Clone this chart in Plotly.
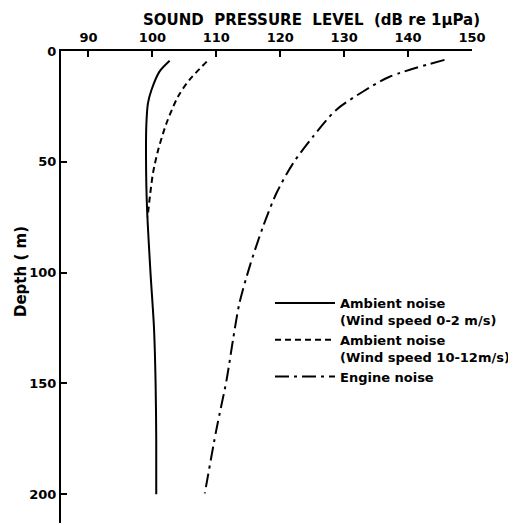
import plotly.graph_objects as go

# Data
solid_depth = [4.4, 9.3, 17.6, 23.6, 32.6, 47.7, 70.3, 100, 125, 150, 175, 200]
solid_spl = [102.7, 101.1, 99.85, 99.3, 99.06, 99.0, 99.15, 99.7, 100.25, 100.5, 100.6, 100.6]

dashed_depth = [4.8, 13, 20.6, 32.6, 44.7, 55, 65.8, 75]
dashed_spl = [108.5, 105.8, 104.0, 102.2, 100.9, 100.1, 99.6, 99.25]

engine_depth = [4, 11.6, 18.4, 26.6, 38.7, 50.7, 64.2, 79.3, 97.4, 114, 130.5, 148.5, 171, 199.6]
engine_spl = [145.7, 137.1, 132.9, 128.75, 125.1, 122.0, 119.4, 117.3, 115.2, 113.6, 112.6, 111.6, 110.0, 108.2]

x_ticks = [90, 100, 110, 120, 130, 140, 150]
y_ticks = [0, 50, 100, 150, 200]

names = [
    "Ambient noise<br>(Wind speed 0-2 m/s)",
    "Ambient noise<br>(Wind speed 10-12m/s)",
    "Engine noise",
]

x_title = "SOUND\u00a0\u00a0PRESSURE\u00a0\u00a0LEVEL\u00a0\u00a0(dB\u00a0re\u00a01μPa)"
y_title = "Depth\u00a0(\u00a0m)"

FONT = "DejaVu Sans"
OFF = 8  # page body margin offset
W, H = 516 - OFF, 525 - OFF
ML, MR, MT, MB = 61 - OFF, 44, 51 - OFF, 2

fig = go.Figure()
fig.add_trace(go.Scatter(x=solid_spl, y=solid_depth, mode="lines", name=names[0],
                         line=dict(color="black", width=2, shape="spline", smoothing=0.8)))
fig.add_trace(go.Scatter(x=dashed_spl, y=dashed_depth, mode="lines", name=names[1],
                         line=dict(color="black", width=2, dash="6px,4px", shape="spline", smoothing=0.8)))
fig.add_trace(go.Scatter(x=engine_spl, y=engine_depth, mode="lines", name=names[2],
                         line=dict(color="black", width=2, dash="14px,5px,3px,5px", shape="spline", smoothing=0.8)))

pw = W - ML - MR
ph = H - MT - MB

def px_x(px):
    # px is a screen x coordinate in the reference
    return (px - OFF - ML) / pw

def px_y(py):
    return 1 - (py - OFF - MT) / ph

fig.update_layout(
    width=W, height=H,
    margin=dict(l=ML, r=MR, t=MT, b=MB, autoexpand=False),
    paper_bgcolor="white", plot_bgcolor="white",
    font=dict(family=FONT, size=13, color="black", weight="bold"),
    showlegend=True,
    legend=dict(x=px_x(270), y=px_y(288), xanchor="left", yanchor="top",
                bgcolor="rgba(0,0,0,0)", itemwidth=60, valign="top",
                tracegroupgap=0, font=dict(size=13, family=FONT, weight="bold")),
    xaxis=dict(
        side="top", range=[85.7, 150], tickvals=x_ticks, automargin=False,
        showline=True, linecolor="black", linewidth=2,
        ticks="inside", ticklen=6, tickwidth=2, tickcolor="black",
        showgrid=False, zeroline=False, ticklabelstandoff=2,
        tickfont=dict(size=13),
    ),
    yaxis=dict(
        range=[213, 0], tickvals=y_ticks, automargin=False,
        showline=True, linecolor="black", linewidth=2,
        ticks="inside", ticklen=6, tickwidth=2, tickcolor="black",
        showgrid=False, zeroline=False,
        tickfont=dict(size=13),
    ),
    annotations=[
        dict(text=x_title, xref="paper", yref="paper", x=px_x(311), y=px_y(20),
             xanchor="center", yanchor="middle", showarrow=False,
             font=dict(size=15, family=FONT, weight="bold")),
        dict(text=y_title, xref="paper", yref="paper", x=px_x(21), y=px_y(272),
             xanchor="center", yanchor="middle", showarrow=False, textangle=-90,
             font=dict(size=15, family=FONT, weight="bold")),
    ],
)

fig.write_html("out.html")
